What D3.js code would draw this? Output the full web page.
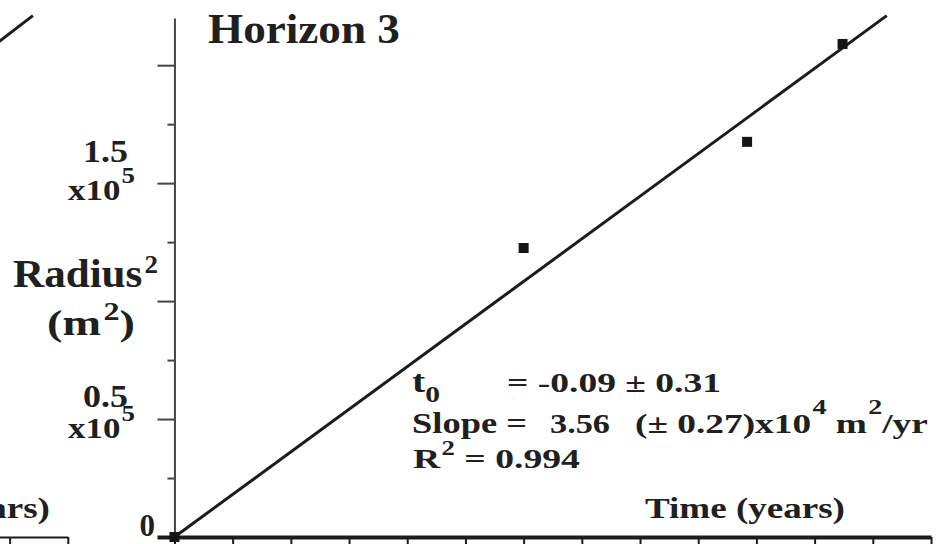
<!DOCTYPE html>
<html>
<head>
<meta charset="utf-8">
<script src="https://cdn.jsdelivr.net/npm/d3@7"></script>
<style>
  html, body { margin: 0; padding: 0; background: #fff; overflow: hidden; }
  text { font-family: "Liberation Serif", "Times New Roman", serif; font-weight: bold; fill: #202020; }
</style>
</head>
<body>
<svg id="chart" width="938" height="544"></svg>
<script>
// Horizon 3: squared radius (m^2) against elapsed time (years)
const times = [0, 3.0, 4.92, 5.74];
const radiusSq = [0, 1.225e5, 1.675e5, 2.09e5];

// fitted line as drawn
const fitTimes = [0, 6.12];
const fitRadiusSq = [0, 2.21e5];

// fit statistics
const fitT0 = "-0.09 ± 0.31";
const fitSlope = "3.56";
const fitSlopeErr = "0.27";
const fitR2 = "0.994";

// axes
const xTickValues = d3.range(0, 6.51, 0.5);
const yMajorTicks = [0.5e5, 1.0e5, 1.5e5, 2.0e5];
const yMinorTicks = [0.25e5, 0.75e5, 1.25e5, 1.75e5];
const yLabelValues = [0.5e5, 1.5e5];
const yLabelMantissas = ["0.5", "1.5"];
const yLabelExponent = "5";

// neighbouring panel, only its right edge shows
const prevFitTimes = [0, 5.70];
const prevFitRadiusSq = [0.46e4, 2.21e5];
const prevXTickValues = [5.5, 6.0];

const ink = "#1c1c1c";
const svg = d3.select("#chart");

const x = d3.scaleLinear().domain([-0.15, 6.5]).range([157, 931]);
const y = d3.scaleLinear().domain([0, 2.2e5]).range([537, 18]);

// stretch a text group horizontally so it spans [x0, x1]
function fitSpan(g, x0, x1) {
  const b = g.node().getBBox();
  const s = (x1 - x0) / b.width;
  g.attr("transform", `translate(${x0 - b.x * s},0) scale(${s},1)`);
  return s;
}

// ---- neighbouring panel (shifted off to the left) ----
const shift = -805;
const xPrev = d3.scaleLinear().domain([-0.15, 6.0]).range([157 + shift, x(6.0) + shift]);
const prev = svg.append("g");
prev.append("path")
  .datum(prevFitTimes.map((t, i) => [t, prevFitRadiusSq[i]]))
  .attr("fill", "none").attr("stroke", ink).attr("stroke-width", 3)
  .attr("d", d3.line().x(d => xPrev(d[0])).y(d => y(d[1])));
prev.append("g")
  .attr("transform", `translate(0,${y(0)})`)
  .call(d3.axisBottom(xPrev).tickValues(prevXTickValues).tickSize(9).tickSizeOuter(0).tickFormat(""))
  .call(g => {
    g.select(".domain").attr("stroke", ink).attr("stroke-width", 2);
    g.selectAll(".tick line").attr("stroke", ink).attr("stroke-width", 2);
  });

// ---- fitted line ----
svg.append("path")
  .datum(fitTimes.map((t, i) => [t, fitRadiusSq[i]]))
  .attr("fill", "none").attr("stroke", ink).attr("stroke-width", 3)
  .attr("d", d3.line().x(d => x(d[0])).y(d => y(d[1])));

// ---- y axis: long major ticks, short minor ticks ----
svg.append("g")
  .attr("transform", `translate(${x(0)},0)`)
  .call(d3.axisLeft(y).tickValues(yMajorTicks).tickSize(17).tickSizeOuter(0).tickFormat(""))
  .call(g => g.selectAll("path, line").attr("stroke", "#444").attr("stroke-width", 2));
svg.append("g")
  .attr("transform", `translate(${x(0)},0)`)
  .call(d3.axisLeft(y).tickValues(yMinorTicks).tickSize(7).tickFormat(""))
  .call(g => { g.select(".domain").remove(); g.selectAll("line").attr("stroke", "#444").attr("stroke-width", 2); });

// ---- x axis ----
svg.append("g")
  .attr("transform", `translate(0,${y(0)})`)
  .call(d3.axisBottom(x).tickValues(xTickValues).tickSize(9).tickSizeOuter(0).tickFormat(""))
  .call(g => {
    g.select(".domain").attr("stroke", ink).attr("stroke-width", 4);
    g.selectAll(".tick line").attr("stroke", ink).attr("stroke-width", 2);
  });

// ---- data points ----
const ms = 10;
svg.append("g").selectAll("rect")
  .data(times.map((t, i) => [t, radiusSq[i]]))
  .join("rect")
  .attr("x", d => x(d[0]) - ms / 2).attr("y", d => y(d[1]) - ms / 2)
  .attr("width", ms).attr("height", ms)
  .attr("fill", "#151515");

// ---- y tick labels ----
svg.append("text").attr("x", 155).attr("y", y(0) - 1)
  .attr("text-anchor", "end").attr("font-size", 31).text("0");

// vertical placement of the mantissa and the "x10^5" line around each tick
const mantissaShift = [-12, -21];
const exponentShift = [19, 17];
yLabelValues.forEach((v, i) => {
  const g1 = svg.append("g");
  g1.append("text").attr("x", 0).attr("y", y(v) + mantissaShift[i]).attr("font-size", 31).text(yLabelMantissas[i]);
  fitSpan(g1, 83, 128);
  const g2 = svg.append("g");
  const t = g2.append("text").attr("x", 0).attr("y", y(v) + exponentShift[i]).attr("font-size", 30);
  t.append("tspan").text("x10");
  t.append("tspan").attr("dx", 1).attr("dy", -17).attr("font-size", 23).text(yLabelExponent);
  fitSpan(g2, 68, 135);
});

// ---- y axis title ----
{
  const g = svg.append("g");
  const t = g.append("text").attr("x", 0).attr("y", 287).attr("font-size", 40);
  t.append("tspan").text("Radius");
  t.append("tspan").attr("dx", 2).attr("dy", -14).attr("font-size", 25).text("2");
  fitSpan(g, 13, 158);
  const g2 = svg.append("g");
  const t2 = g2.append("text").attr("x", 0).attr("y", 335).attr("font-size", 36);
  t2.append("tspan").text("(m");
  t2.append("tspan").attr("dx", 2).attr("dy", -15).attr("font-size", 25).text("2");
  t2.append("tspan").attr("dy", 15).text(")");
  fitSpan(g2, 47, 135);
}

// ---- panel title ----
{
  const g = svg.append("g");
  g.append("text").attr("x", 0).attr("y", 43).attr("font-size", 42).text("Horizon 3");
  fitSpan(g, 208, 400);
}

// ---- fit statistics ----
{
  const g1 = svg.append("g");
  const t1 = g1.append("text").attr("x", 0).attr("y", 392).attr("font-size", 31);
  t1.append("tspan").text("t");
  t1.append("tspan").attr("dy", 10).attr("font-size", 23).text("0");
  fitSpan(g1, 412, 440);

  const g2 = svg.append("g");
  g2.append("text").attr("x", 0).attr("y", 392).attr("font-size", 28).text("= " + fitT0);
  fitSpan(g2, 507, 721);

  const g3 = svg.append("g");
  g3.append("text").attr("x", 0).attr("y", 433).attr("font-size", 29).text("Slope =");
  fitSpan(g3, 412, 527);

  const g4 = svg.append("g");
  g4.append("text").attr("x", 0).attr("y", 433).attr("font-size", 28).text(fitSlope);
  fitSpan(g4, 550, 610);

  const g5 = svg.append("g");
  const t5 = g5.append("text").attr("x", 0).attr("y", 433).attr("font-size", 28);
  t5.append("tspan").text("(± " + fitSlopeErr + ")x10");
  t5.append("tspan").attr("dx", 1).attr("dy", -19).attr("font-size", 21).text("4");
  t5.append("tspan").attr("dy", 19).text(" m");
  t5.append("tspan").attr("dx", 1).attr("dy", -19).attr("font-size", 21).text("2");
  t5.append("tspan").attr("dy", 19).text("/yr");
  fitSpan(g5, 635, 928);

  const g6 = svg.append("g");
  const t6 = g6.append("text").attr("x", 0).attr("y", 468).attr("font-size", 28);
  t6.append("tspan").text("R");
  t6.append("tspan").attr("dx", 1).attr("dy", -13).attr("font-size", 20).text("2");
  t6.append("tspan").attr("dy", 13).text(" = " + fitR2);
  fitSpan(g6, 413, 580);
}

// ---- x axis titles ----
{
  const g = svg.append("g");
  g.append("text").attr("x", 0).attr("y", 518).attr("font-size", 30).text("Time (years)");
  fitSpan(g, 645, 845);
  const gp = svg.append("g");
  gp.append("text").attr("x", 0).attr("y", 518).attr("font-size", 30).text("Time (years)");
  fitSpan(gp, 50 - 200, 50);
}
</script>
</body>
</html>
